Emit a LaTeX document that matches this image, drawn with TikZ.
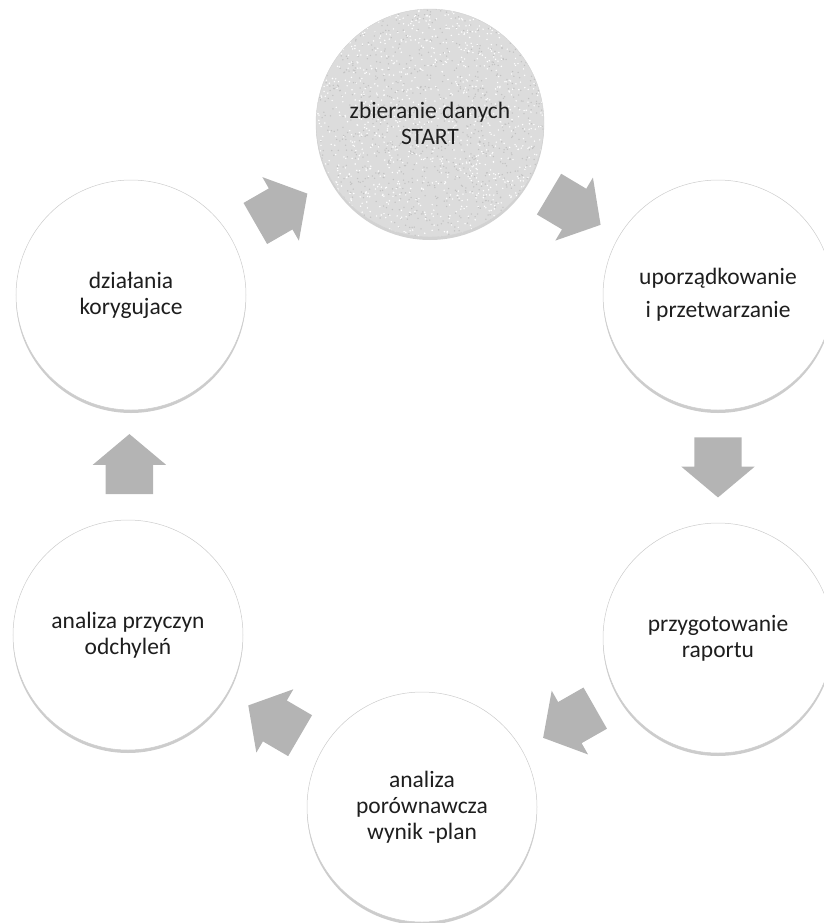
\documentclass[tikz,border=0pt]{standalone}
\usepackage{fontspec}
\setmainfont{Carlito}
\usetikzlibrary{shapes.arrows,shadows,calc}
\pgfdeclarelayer{bg}
\pgfsetlayers{bg,main}
\definecolor{arrowgray}{RGB}{180,180,180}
\definecolor{startgray}{RGB}{220,220,220}
\definecolor{txt}{RGB}{30,30,30}
\begin{document}
\begin{tikzpicture}[x=1bp,y=-1bp,
  stagetext/.style={align=center, text=txt, font=\fontsize{23.5bp}{26bp}\selectfont},
  stage/.style={stagetext, circle, minimum size=230bp, inner sep=0pt, draw=gray!40, line width=0.5bp, fill=white,
    drop shadow={shadow xshift=0bp, shadow yshift=-3bp, opacity=0.5, fill=gray!80}},
  start/.style={stagetext, circle, minimum size=228bp, inner sep=0pt, draw=gray!35, line width=0.4bp},
  cyclearrow/.style={single arrow, draw=none, fill=arrowgray, inner xsep=0pt, inner ysep=23.5bp,
    minimum height=60bp, single arrow head extend=13bp, single arrow tip angle=100}
]
\path[use as bounding box, clip] (0,0) rectangle (824,923);

% stages
\node[start] (n1) at (430,123) {zbieranie danych\\START};
\node[stage] (n2) at (718,295) {uporządkowanie\\[7bp]i przetwarzanie};
\node[stage] (n3) at (718,638) {przygotowanie\\raportu};
\node[stage] (n4) at (422,807) {analiza\\porównawcza\\wynik -plan};
\node[stage] (n5) at (128,635) {analiza przyczyn\\odchyleń};
\node[stage] (n6) at (131,295) {działania\\korygujace};

% speckled background of the start circle
\begin{pgfonlayer}{bg}
  \fill[gray!70, opacity=0.5] ($(n1.center)+(0,3)$) circle (114bp);
  \fill[startgray] (n1.center) circle (114bp);
  \begin{scope}[shift={(n1.center)}]
    \clip (0,0) circle (114bp);
    \pgfmathsetseed{7}
    \foreach \i in {1,...,1100}{
      \pgfmathsetmacro\rx{115*rand}
      \pgfmathsetmacro\ry{115*rand}
      \fill[gray!48] (\rx,\ry) circle (0.75bp);
    }
    \foreach \i in {1,...,1200}{
      \pgfmathsetmacro\rx{115*rand}
      \pgfmathsetmacro\ry{115*rand}
      \fill[white] (\rx,\ry) circle (0.8bp);
    }
  \end{scope}
\end{pgfonlayer}

% cycle arrows
\node[cyclearrow, rotate=-30.8] (a1) at ($(n1)!0.5!(n2)!9bp!(n1)$) {};
\node[cyclearrow, rotate=-90]   (a2) at ($(n2)!0.5!(n3)!9bp!(n2)$) {};
\node[cyclearrow, rotate=209.7] (a3) at ($(n3)!0.5!(n4)!9bp!(n3)$) {};
\node[cyclearrow, rotate=149.7] (a4) at ($(n4)!0.5!(n5)!9bp!(n4)$) {};
\node[cyclearrow, rotate=90]    (a5) at ($(n5)!0.5!(n6)!9bp!(n5)$) {};
\node[cyclearrow, rotate=29.9]  (a6) at ($(n6)!0.5!(n1)!9bp!(n6)$) {};
\end{tikzpicture}
\end{document}
